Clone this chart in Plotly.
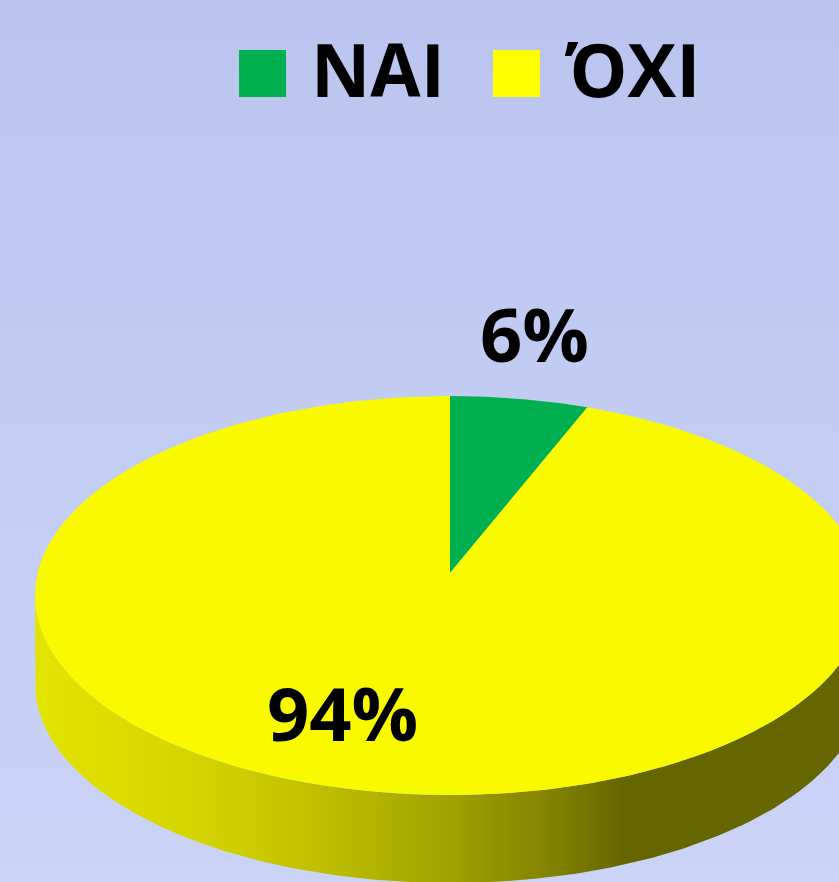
import numpy as np
import plotly.graph_objects as go

# ---- data ----
categories = ["ΝΑΙ", "ΌΧΙ"]
values = [6, 94]
colors = ["#00B050", "#FFFF00"]
top_colors = ["#00B050", "#F9F900"]

# ---- layout / projection constants (style) ----
W, H = 839, 882
CX, CY = 450.0, 573.0
RX = 412.4          # horizontal radius scale
PB = -132.3         # vertical perspective coefficient
PC = 0.1128         # perspective divisor coefficient
DEPTH = 88.0        # thickness of the pie

def proj(theta_deg, r=1.0, drop=0.0):
    t = np.radians(theta_deg)
    u = r * np.sin(t)
    v = r * np.cos(t)
    d = 1 + PC * v
    return CX + RX * u / d, (CY + PB * v) / d + drop

fig = go.Figure()

# background gradient
fig.add_trace(go.Scatter(
    x=[0, W, W, 0, 0], y=[0, 0, H, H, 0], mode="lines", fill="toself",
    line=dict(width=0), hoverinfo="skip", showlegend=False,
    fillgradient=dict(type="vertical", start=0, stop=H,
                      colorscale=[[0, "#BBC4EE"], [1, "#CBD4F7"]])))

# slice angles
total = sum(values)
bounds = np.cumsum([0] + values) / total * 360.0
sil = np.degrees(np.arccos(-PC))          # right silhouette angle
front = (sil, 360 - sil)                   # visible side range

rim_scales = {
    "#FFFF00": [[0, "rgb(228,228,0)"], [0.2, "rgb(212,212,0)"], [0.35, "rgb(192,192,0)"],
                [0.52, "rgb(160,160,0)"], [0.65, "rgb(128,128,0)"], [0.73, "rgb(102,102,0)"],
                [1, "rgb(102,102,0)"]],
    "#00B050": [[0, "rgb(0,150,68)"], [0.73, "rgb(0,70,32)"], [1, "rgb(0,70,32)"]],
}

# rims (visible side faces)
for i in range(len(values)):
    a0, a1 = max(bounds[i], front[0]), min(bounds[i + 1], front[1])
    if a1 <= a0:
        continue
    th = np.linspace(a0, a1, 200)
    xt, yt = proj(th)
    xb, yb = proj(th[::-1], drop=DEPTH)
    fig.add_trace(go.Scatter(
        x=np.concatenate([xt, xb, xt[:1]]), y=np.concatenate([yt, yb, yt[:1]]),
        mode="lines", fill="toself", line=dict(width=0), hoverinfo="skip",
        showlegend=False,
        fillgradient=dict(type="horizontal", start=35, stop=W,
                          colorscale=rim_scales[colors[i]])))

# top faces
for i in range(len(values)):
    th = np.linspace(bounds[i], bounds[i + 1], 300)
    xa, ya = proj(th)
    x0, y0 = proj(0, r=0)
    fig.add_trace(go.Scatter(
        x=np.concatenate([[x0], xa, [x0]]), y=np.concatenate([[y0], ya, [y0]]),
        mode="lines", fill="toself", fillcolor=top_colors[i],
        line=dict(width=0), hoverinfo="skip", showlegend=False, name=categories[i]))

FONT = "Open Sans, Noto Sans, DejaVu Sans, sans-serif"

# percentage labels (layout positions)
label_pos = [(534, 333), (342, 712)]
for i, v in enumerate(values):
    fig.add_annotation(x=label_pos[i][0], y=label_pos[i][1], xref="x", yref="y",
                       text=f"<b>{round(v / total * 100)}%</b>", showarrow=False,
                       font=dict(family=FONT, size=74, color="black"),
                       xanchor="center", yanchor="middle")

# legend (swatches + text)
legend_x = [239, 493]
for i, name in enumerate(categories):
    fig.add_shape(type="rect", xref="x", yref="y",
                  x0=legend_x[i], x1=legend_x[i] + 47, y0=50, y1=97,
                  fillcolor=colors[i], line=dict(width=0))
    fig.add_annotation(x=legend_x[i] + 70, y=68, xref="x", yref="y",
                       text=f"<b>{name}</b>", showarrow=False,
                       font=dict(family=FONT, size=73, color="black"),
                       xanchor="left", yanchor="middle")

fig.update_layout(
    width=W, height=H, autosize=False,
    margin=dict(l=0, r=0, t=0, b=0, pad=0),
    paper_bgcolor="#C3CBF2", plot_bgcolor="#C3CBF2",
    xaxis=dict(range=[0, W], visible=False, fixedrange=True),
    yaxis=dict(range=[H, 0], visible=False, fixedrange=True),
    showlegend=False,
)

fig.write_html("out.html", config={"displayModeBar": False},
               post_script="document.body.style.margin='0';document.body.style.overflow='hidden';")
